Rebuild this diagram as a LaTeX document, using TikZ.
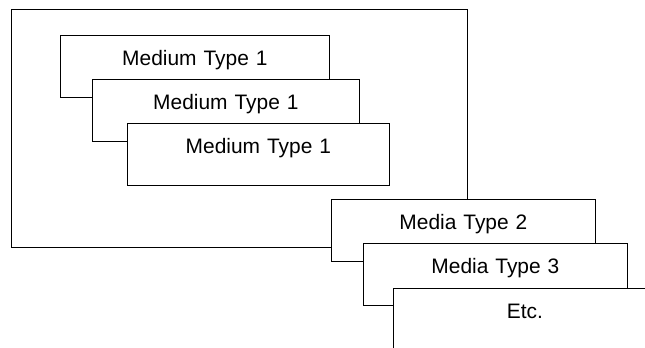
\documentclass[tikz,border=0pt]{standalone}
\usepackage{fontspec}
\setmainfont{Liberation Sans}
\begin{document}
\begin{tikzpicture}[x=1bp,y=-1bp,
  frame/.style={draw=black,line width=0.8bp,fill=white,rectangle,inner sep=0pt,anchor=north west},
  card/.style={frame,font=\fontsize{21}{21}\selectfont,text height=30bp,text depth=32bp,align=center}]
\useasboundingbox (0,0) rectangle (645,347);
\clip (0,0) rectangle (645,347);
\node[frame,minimum width=456bp,minimum height=238bp] (outer) at (11,9) {};
\node[card,text width=269bp] (m1) at (60,35) {Medium Type 1};
\node[card,text width=267bp] (m2) at (92,79) {Medium Type 1};
\node[card,text width=262bp] (m3) at (127,123) {Medium Type 1};
\node[card,text width=264bp] (t2) at (331,199) {Media Type 2};
\node[card,text width=264bp] (t3) at (363,243) {Media Type 3};
\node[card,text width=263bp] (etc) at (393,288) {Etc.};
\end{tikzpicture}
\end{document}
